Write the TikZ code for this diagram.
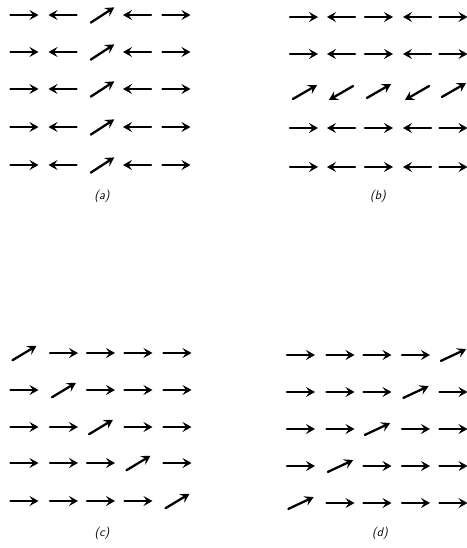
\documentclass[tikz,border=0pt]{standalone}
\usetikzlibrary{arrows.meta}
\newcommand\myarr[3]{\draw[vec] (#1,#2) ++(#3+180:14pt) -- ++(#3:28pt);}
\begin{document}
\begin{tikzpicture}[x=1pt,y=-1pt,
  vec/.style={line width=2.3pt, line cap=round, -{Stealth[length=9pt,width=10pt,inset=3.5pt]}},
  lab/.style={font=\sffamily\itshape\fontsize{12.5}{14}\selectfont}]
\useasboundingbox (0,0) rectangle (466,548);
% panel (a)
\foreach \y in {15,52,89,127,165}{
  \myarr{24.5}{\y}{0}
  \myarr{62.5}{\y}{180}
  \myarr{102.5}{\y}{33}
  \myarr{137}{\y}{180}
  \myarr{176.5}{\y}{0}
}
\node[lab] (la) at (102,196) {(a)};
% panel (b)
\foreach \y in {17,54,128,167}{
  \myarr{304}{\y}{0}
  \myarr{341}{\y}{180}
  \myarr{379}{\y}{0}
  \myarr{417}{\y}{180}
  \myarr{453.5}{\y}{0}
}
\myarr{305}{92}{30}
\myarr{341}{93}{210}
\myarr{379}{91}{30}
\myarr{417}{93}{210}
\myarr{454}{90}{30}
\node[lab] (lb) at (378,196) {(b)};
% panel (c)
\foreach \y [count=\r] in {353,390,427,463,501}{
  \foreach \x [count=\c] in {24.5,64,101,138.5,177.5}{
    \ifnum\r=\c \myarr{\x}{\y}{31}\else\myarr{\x}{\y}{0}\fi
  }
}
\node[lab] (lc) at (102,533) {(c)};
% panel (d)
\foreach \y [count=\r] in {355,392,429,466,503}{
  \foreach \x [count=\c] in {301,340.5,377.5,416,453.5}{
    \pgfmathtruncatemacro\s{\r+\c}
    \ifnum\s=6 \myarr{\x}{\y}{25}\else\myarr{\x}{\y}{0}\fi
  }
}
\node[lab] (ld) at (380,533) {(d)};
\end{tikzpicture}
\end{document}
